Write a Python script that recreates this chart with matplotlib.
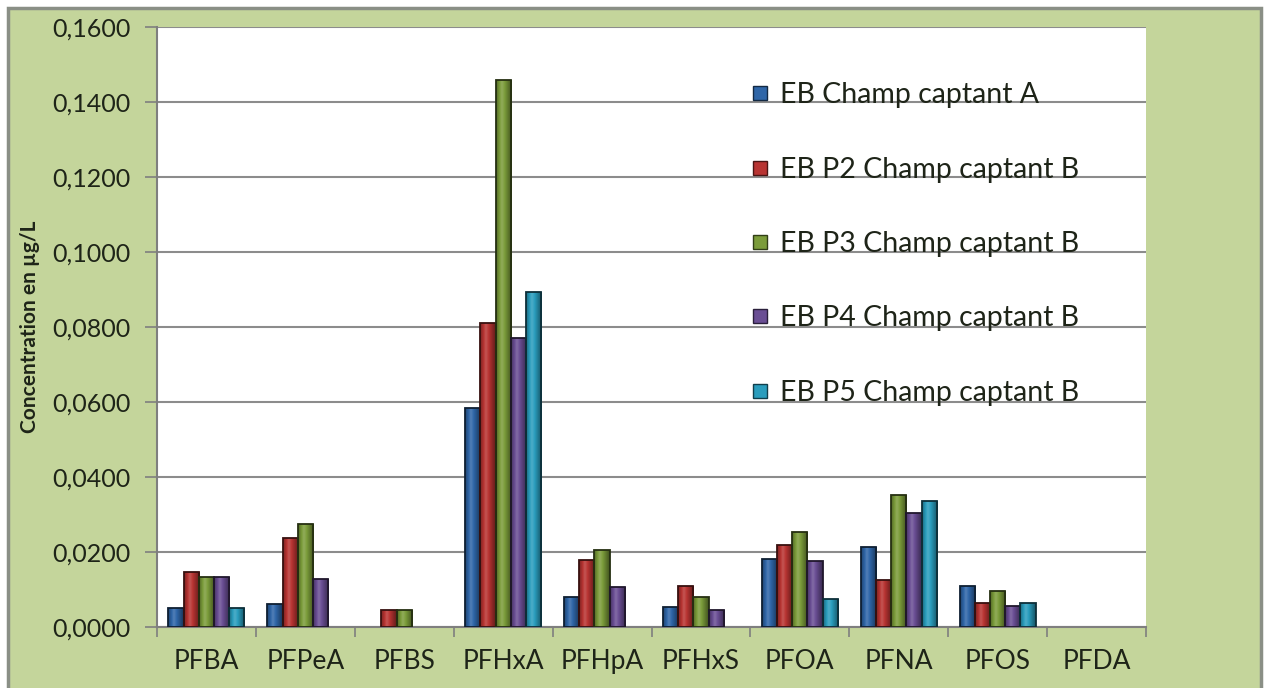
import numpy as np
import matplotlib
matplotlib.use("Agg")
import matplotlib.pyplot as plt
from matplotlib.colors import to_rgb
from matplotlib.lines import Line2D
from matplotlib.patches import Rectangle

# Substances analysed
categories = ["PFBA", "PFPeA", "PFBS", "PFHxA", "PFHpA",
              "PFHxS", "PFOA", "PFNA", "PFOS", "PFDA"]

series_names = ["EB Champ captant A", "EB P2 Champ captant B",
                "EB P3 Champ captant B", "EB P4 Champ captant B",
                "EB P5 Champ captant B"]

# Concentrations in µg/L
eb_a = [0.0050, 0.0061, 0.0, 0.0584, 0.0080, 0.0053, 0.0181, 0.0214, 0.0109, 0.0]
eb_p2 = [0.0147, 0.0237, 0.0045, 0.0810, 0.0178, 0.0110, 0.0219, 0.0125, 0.0064, 0.0]
eb_p3 = [0.0133, 0.0275, 0.0045, 0.1460, 0.0205, 0.0080, 0.0253, 0.0352, 0.0096, 0.0]
eb_p4 = [0.0133, 0.0128, 0.0, 0.0771, 0.0107, 0.0045, 0.0176, 0.0303, 0.0056, 0.0]
eb_p5 = [0.0050, 0.0, 0.0, 0.0893, 0.0, 0.0, 0.0075, 0.0336, 0.0064, 0.0]

series = [eb_a, eb_p2, eb_p3, eb_p4, eb_p5]
colors = ["#2f66a8", "#b83432", "#7b9c3a", "#6a4e94", "#2a9dbd"]

yticks = [0.0, 0.02, 0.04, 0.06, 0.08, 0.10, 0.12, 0.14, 0.16]

FONT = ["Lato", "DejaVu Sans"]
plt.rcParams["font.family"] = FONT
TEXT = "#1e2418"
BG = "#c4d59b"

fig = plt.figure(figsize=(12.66, 6.88), dpi=100)
fig.patch.set_facecolor("white")

# Green chart-area panel with a grey frame on left, top and right
frame = Rectangle((8 / 1266, -0.01), (1261 - 8) / 1266, 1.01 - 8 / 688,
                  transform=fig.transFigure, facecolor=BG,
                  edgecolor="#8a8f86", linewidth=2.5, zorder=-10)
fig.patches.append(frame)

ax = fig.add_axes([157 / 1266, 1 - 627 / 688, (1146 - 157) / 1266, 600 / 688])
ax.set_zorder(1)
ax.set_facecolor("white")

n = len(series)
bar_w = 1.0 / (n + 1.5)
x = np.arange(len(categories))


def shade(c, f):
    r, g, b = to_rgb(c)
    if f >= 1:
        return tuple(1 - (1 - v) / f for v in (r, g, b))
    return tuple(v * f for v in (r, g, b))


for i, (vals, col) in enumerate(zip(series, colors)):
    offs = (i - (n - 1) / 2) * bar_w
    bars = ax.bar(x + offs, vals, width=bar_w, color=col,
                  linewidth=0, zorder=3)
    # horizontal gradient to give the bars a rounded look
    grad = np.array([shade(col, f) for f in
                     np.concatenate([np.linspace(0.7, 1.15, 6),
                                     np.linspace(1.15, 0.55, 10)])])
    for b in bars:
        h = b.get_height()
        if h <= 0:
            continue
        im = ax.imshow(grad[np.newaxis, :, :], aspect="auto",
                       extent=(b.get_x(), b.get_x() + b.get_width(), 0, h),
                       zorder=3.5, interpolation="bilinear")
        im.set_clip_path(b)
        ax.add_patch(Rectangle((b.get_x(), 0), b.get_width(), h,
                               fill=False, edgecolor=shade(col, 0.3),
                               linewidth=1.3, zorder=4))

ax.set_xlim(-0.5, len(categories) - 0.5)
ax.set_ylim(0, 0.16)
ax.set_yticks(yticks)
ax.set_yticklabels([f"{v:.4f}".replace(".", ",") for v in yticks],
                   fontsize=18, color=TEXT)
ax.yaxis.grid(True, color="#8c8c8c", linewidth=1.5, zorder=0)
ax.set_axisbelow(True)

ax.set_xticks(x)
ax.set_xticklabels(categories, fontsize=19, color=TEXT)
ax.tick_params(axis="x", length=0, pad=16)
ax.set_xticks(np.arange(-0.5, len(categories), 1.0), minor=True)
ax.tick_params(axis="x", which="minor", length=7, color="#7f7f7f", width=1.2)
ax.tick_params(axis="y", length=9, color="#7f7f7f", width=1.2, pad=10)

for s in ["top", "right"]:
    ax.spines[s].set_visible(False)
ax.spines["left"].set_color("#7f7f7f")
ax.spines["left"].set_linewidth(1.5)
ax.spines["bottom"].set_color("#7f7f7f")
ax.spines["bottom"].set_linewidth(1.5)

ax.set_ylabel("Concentration en µg/L", fontsize=15, fontweight="bold",
              color=TEXT)
ax.yaxis.set_label_coords(-(157 - 40) / 989, 0.5)

handles = [Line2D([], [], marker="s", linestyle="none", markersize=9.5,
                  markerfacecolor=c, markeredgecolor=shade(c, 0.4))
           for c in colors]
leg = ax.legend(handles, series_names, loc="upper left",
                bbox_to_anchor=(579 / 989, 1 - 41 / 600), frameon=False,
                fontsize=20.5, labelspacing=1.7, handletextpad=0.35,
                handlelength=0.7, borderpad=0)
for t in leg.get_texts():
    t.set_color(TEXT)

fig.savefig("out.png", dpi=100, facecolor=fig.get_facecolor())
